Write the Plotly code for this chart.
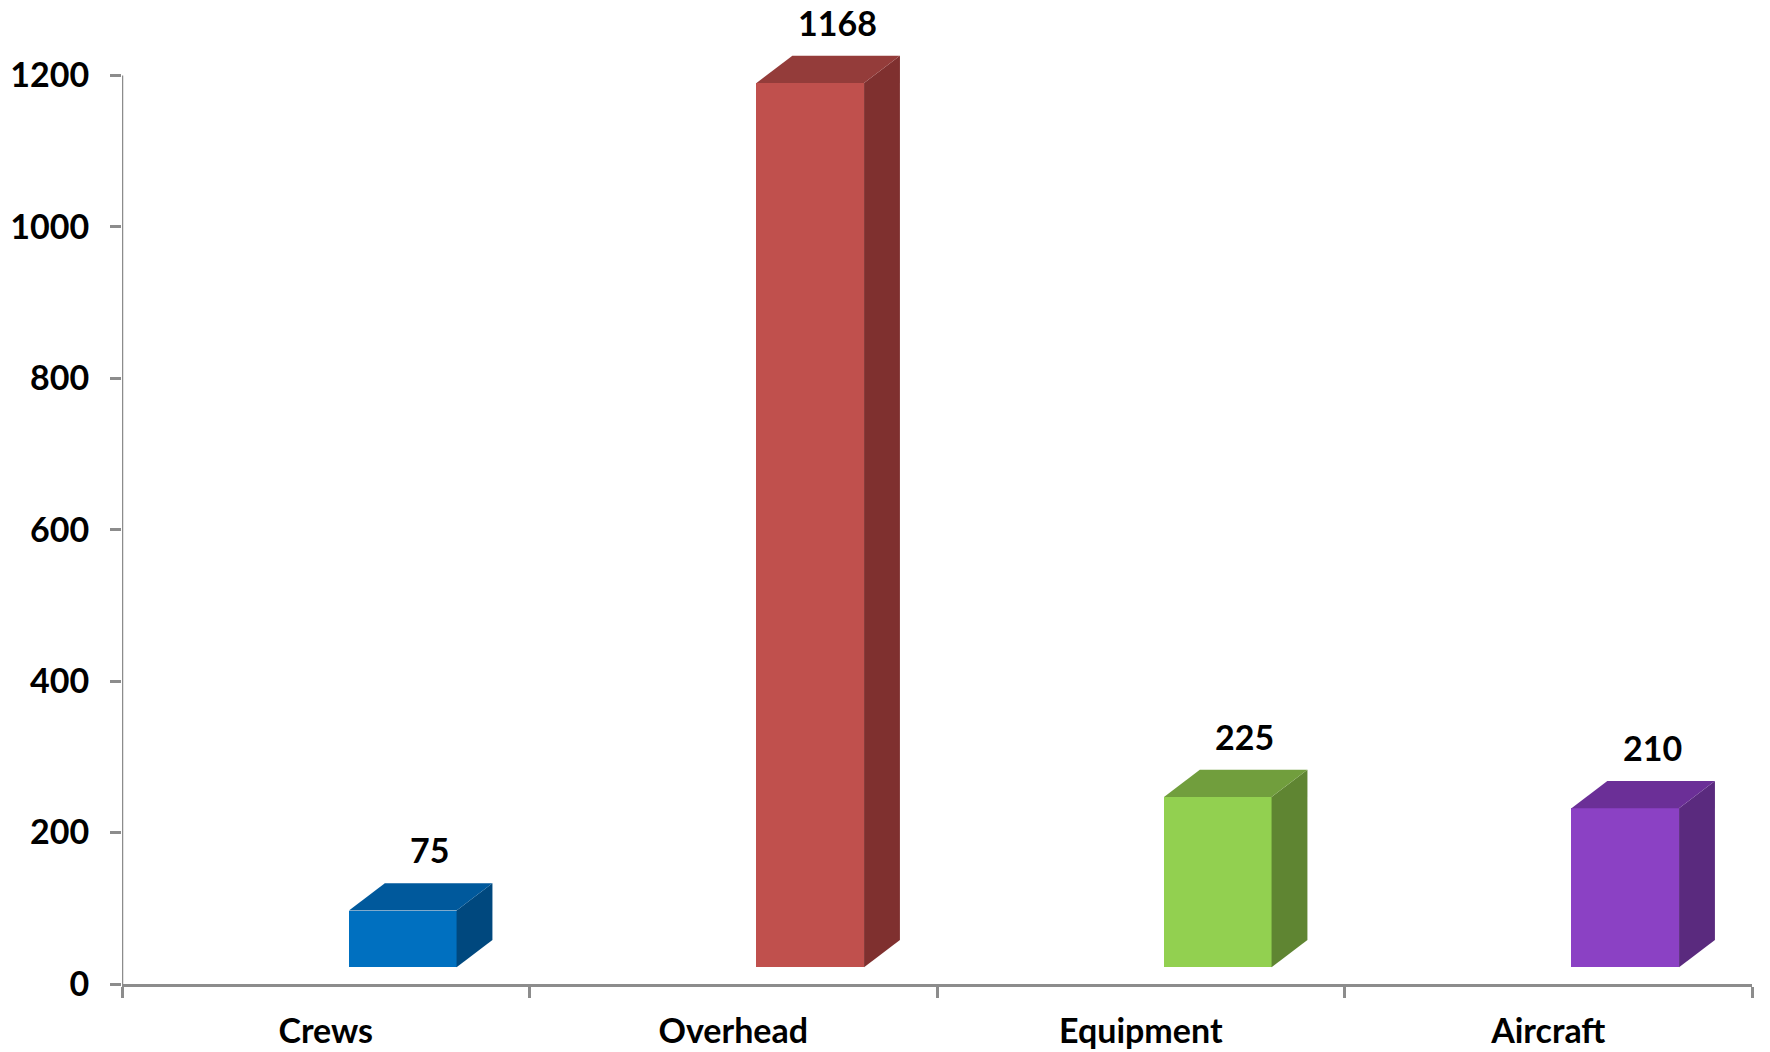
import plotly.graph_objects as go

# chart data
categories = ["Crews", "Overhead", "Equipment", "Aircraft"]
values = [75, 1168, 225, 210]
y_ticks = [0, 200, 400, 600, 800, 1000, 1200]

# colours for the three visible faces of each column
front_colors = ["#0070C0", "#C0504D", "#92D050", "#8B41C4"]
top_colors = ["#00599C", "#943C3A", "#719E3D", "#6B2F97"]
side_colors = ["#00487E", "#7F302F", "#5F8532", "#5A2A7E"]

# fake 3D geometry (category units on x, value units on y)
FRONT_LEFT = 0.557   # left edge of the front face inside its category slot
FRONT_W = 0.264      # width of the front face
DEPTH_X = 0.088      # depth shift to the right
DEPTH_Y = 36         # depth shift upward
FLOOR = 22           # columns stand a bit above the axis line
AXIS_GREY = "#8C8C8C"
FONT = dict(family="Lato", size=34, color="#000000", weight="bold")

fig = go.Figure()

centers = [i + FRONT_LEFT + FRONT_W / 2 for i in range(len(categories))]

# side and top faces
for i, v in enumerate(values):
    left = i + FRONT_LEFT
    right = left + FRONT_W
    top = v + FLOOR
    fig.add_trace(go.Scatter(
        x=[right, right, right + DEPTH_X, right + DEPTH_X, right],
        y=[FLOOR, top, top + DEPTH_Y, FLOOR + DEPTH_Y, FLOOR],
        mode="lines", fill="toself", fillcolor=side_colors[i],
        line=dict(width=0), hoverinfo="skip", showlegend=False
    ))
    fig.add_trace(go.Scatter(
        x=[left, right, right + DEPTH_X, left + DEPTH_X, left],
        y=[top, top, top + DEPTH_Y, top + DEPTH_Y, top],
        mode="lines", fill="toself", fillcolor=top_colors[i],
        line=dict(width=0), hoverinfo="skip", showlegend=False
    ))

# front faces
fig.add_trace(go.Bar(
    x=centers,
    y=values,
    base=FLOOR,
    width=FRONT_W,
    marker=dict(color=front_colors, line=dict(width=0)),
    customdata=categories,
    hovertemplate="<b>%{customdata}</b><br>%{y}<extra></extra>",
    showlegend=False
))

# value labels above each column
for i, v in enumerate(values):
    fig.add_annotation(
        x=centers[i] + 0.066, y=v + FLOOR + DEPTH_Y,
        text=str(v), showarrow=False,
        yanchor="bottom", yshift=11,
        font=FONT
    )

# value axis line only runs up to the last tick
fig.add_shape(type="line", xref="x", yref="y",
              x0=0, x1=0, y0=0, y1=y_ticks[-1],
              line=dict(color=AXIS_GREY, width=2.5))

fig.update_layout(
    width=1770, height=1052,
    margin=dict(l=122, r=18, t=30, b=68),
    plot_bgcolor="white",
    paper_bgcolor="white",
    bargap=0,
    font=FONT,
)

fig.update_xaxes(
    range=[0, len(categories)],
    tickvals=[i + 0.5 for i in range(len(categories))],
    ticktext=categories,
    ticks="",
    ticklabelstandoff=15,
    automargin=False,
    showline=True, linecolor=AXIS_GREY, linewidth=2.5,
    showgrid=False, zeroline=False,
    minor=dict(tickmode="array", tickvals=list(range(len(categories) + 1)),
               ticks="outside", ticklen=11, tickwidth=2.5, tickcolor=AXIS_GREY),
    tickfont=FONT,
)

fig.update_yaxes(
    range=[0, 1260],
    tickvals=y_ticks,
    ticks="outside", ticklen=11, tickwidth=2.5, tickcolor=AXIS_GREY,
    ticklabelstandoff=14,
    automargin=False,
    showline=False, showgrid=False, zeroline=False,
    tickfont=FONT,
)

# drop the default 8px page margin so the figure fills the window exactly
fig.write_html("out.html", config={"displayModeBar": False},
               post_script="document.body.style.margin = '0';")
